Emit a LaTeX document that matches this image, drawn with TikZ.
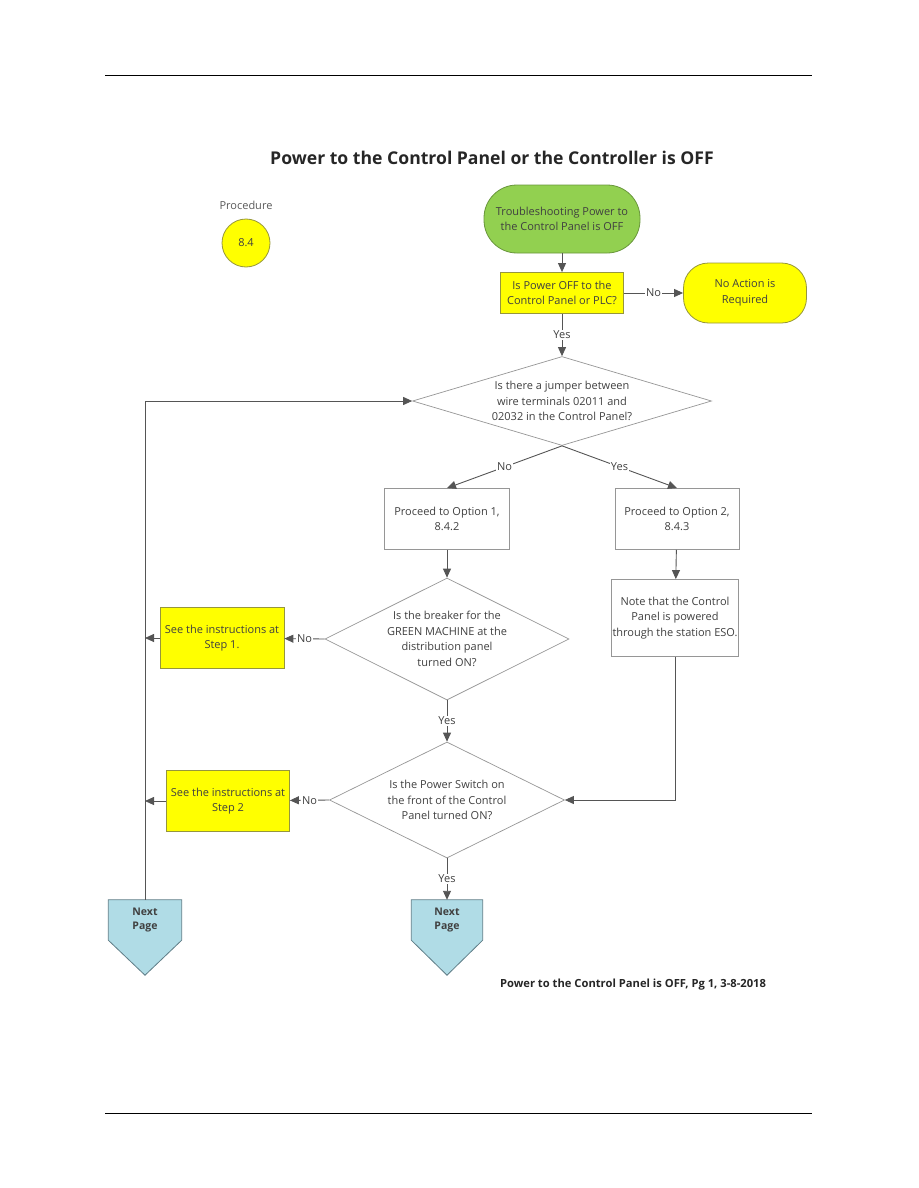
\documentclass[tikz,border=0pt]{standalone}
\usepackage{fontspec}
\setmainfont{Open Sans}
\usepackage{xcolor}
\usetikzlibrary{arrows.meta, positioning, shapes.geometric, calc, backgrounds}

\definecolor{termgreen}{RGB}{146,208,80}
\definecolor{termgreenline}{RGB}{105,150,60}
\definecolor{boxyellow}{RGB}{255,255,0}
\definecolor{yellowline}{RGB}{150,150,60}
\definecolor{pageblue}{RGB}{176,220,230}
\definecolor{pageblueline}{RGB}{95,125,135}
\definecolor{lineg}{RGB}{85,85,85}
\definecolor{boxg}{RGB}{150,150,150}
\definecolor{txtg}{RGB}{64,64,64}

\begin{document}
\begin{tikzpicture}[x=1pt, y=-1pt,
  every node/.style={font=\fontsize{11}{15.5}\selectfont, text=txtg, align=center, inner sep=0pt},
  startbox/.style={draw=termgreenline, fill=termgreen, line width=0.8pt, rounded corners=33pt},
  endbox/.style={draw=yellowline, fill=boxyellow, line width=0.8pt, rounded corners=25pt},
  qbox/.style={draw=yellowline, fill=boxyellow, line width=0.8pt},
  procbox/.style={draw=boxg, fill=white, line width=0.8pt},
  decbox/.style={diamond, draw=boxg, fill=white, line width=0.7pt},
  pagebox/.style={draw=pageblueline, fill=pageblue, line width=0.8pt},
  pagetxt/.style={font=\bfseries\fontsize{10.5}{14}\selectfont, text=txtg},
  conn/.style={draw=lineg, line width=0.9pt, -{Triangle[length=9pt, width=8pt]}},
  lbl/.style={fill=white, inner sep=1pt}
]
  \useasboundingbox (0,0) rectangle (918,1188);

  % Page rules
  \draw[line width=0.6pt] (105,75) -- (812,75);
  \draw[line width=0.6pt] (105,1113) -- (812,1113);

  % Title
  \node[font=\bfseries\fontsize{17.6}{21}\selectfont, text=black!85] (title) at (492,158)
    {Power to the Control Panel or the Controller is OFF};

  % Procedure
  \node[text=black!65] (proclbl) at (246,205) {Procedure};
  \node[circle, draw=yellowline, fill=boxyellow, line width=0.8pt, minimum size=48pt] (proc) at (246,243) {8.4};

  % Start and first question
  \node[startbox, minimum width=156pt, minimum height=68pt] (start) at (562,219)
    {Troubleshooting Power to\\the Control Panel is OFF};
  \node[qbox, minimum width=123pt, minimum height=41pt] (q1) at (562,293)
    {Is Power OFF to the\\Control Panel or PLC?};
  \node[endbox, minimum width=123pt, minimum height=60pt] (noact) at (745,293)
    {No Action is\\Required};

  % Jumper question
  \node[decbox, minimum width=299pt, minimum height=89pt] (d1) at (562,401) {};
  \node (d1t) at (d1) {Is there a jumper between\\wire terminals 02011 and\\02032 in the Control Panel?};

  % Options
  \node[procbox, minimum width=125pt, minimum height=61pt] (opt1) at (447,519)
    {Proceed to Option 1,\\8.4.2};
  \node[procbox, minimum width=124pt, minimum height=61pt] (opt2) at (677,519)
    {Proceed to Option 2,\\8.4.3};
  \node[procbox, minimum width=127pt, minimum height=77pt] (note) at (675,618)
    {Note that the Control\\Panel is powered\\through the station ESO.};

  % Breaker question
  \node[decbox, minimum width=244pt, minimum height=122pt] (d2) at (447,639) {};
  \node (d2t) at (d2) {Is the breaker for the\\GREEN MACHINE at the\\distribution panel\\turned ON?};
  \node[qbox, minimum width=124pt, minimum height=61pt] (step1) at (222,638)
    {See the instructions at\\Step 1.};

  % Power switch question
  \node[decbox, minimum width=235pt, minimum height=116pt] (d3) at (447,800) {};
  \node (d3t) at (d3) {Is the Power Switch on\\the front of the Control\\Panel turned ON?};
  \node[qbox, minimum width=123pt, minimum height=61pt] (step2) at (228,801)
    {See the instructions at\\Step 2};

  % Off-page connectors
  \node[pagetxt, minimum width=73pt, minimum height=40pt] (nextL) at (145,920) {Next\\Page};
  \node[pagetxt, minimum width=71pt, minimum height=40pt] (nextC) at (447,920) {Next\\Page};
  \begin{scope}[on background layer]
    \foreach \n in {nextL, nextC}
      \draw[pagebox] (\n.north west) -- (\n.north east) -- (\n.south east)
        -- ($(\n.south)+(0,35)$) -- (\n.south west) -- cycle;
  \end{scope}

  % Footer
  \node[font=\bfseries\fontsize{11.2}{13}\selectfont, text=black!85] (foot) at (633,985)
    {Power to the Control Panel is OFF, Pg 1, 3-8-2018};

  % Connectors
  \coordinate (j1) at (nextL.north |- step1.west);
  \coordinate (j2) at (nextL.north |- step2.west);
  \draw[conn] (start) -- (q1);
  \draw[conn] (q1) -- node[lbl] {No} (noact);
  \draw[conn] (q1) -- node[lbl] {Yes} (d1.north);
  \draw[conn] (d1.south) -- node[lbl] {No} (opt1.north);
  \draw[conn] (d1.south) -- node[lbl] {Yes} (opt2.north);
  \draw[conn] (opt1) -- (d2.north);
  \draw[conn] (opt2) -- (note);
  \draw[conn] (d2.west) -- node[lbl] {No} (step1);
  \draw[conn] (step1) -- (j1);
  \draw[conn] (d2.south) -- node[lbl] {Yes} (d3.north);
  \draw[conn] (note.south) |- (d3.east);
  \draw[conn] (d3.west) -- node[lbl] {No} (step2);
  \draw[conn] (step2) -- (j2);
  \draw[conn] (d3.south) -- node[lbl] {Yes} (nextC.north);
  \draw[conn] (nextL.north) |- (d1.west);
\end{tikzpicture}
\end{document}
